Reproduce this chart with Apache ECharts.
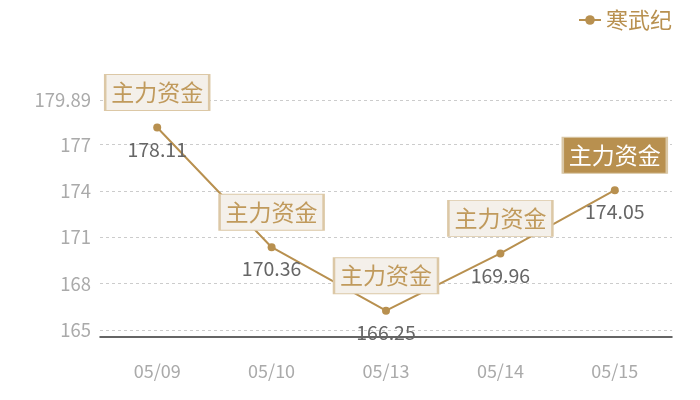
<!DOCTYPE html>
<html>
<head>
<meta charset="utf-8">
<script src="https://cdn.jsdelivr.net/npm/echarts@6/dist/echarts.min.js"></script>
<style>
  html, body { margin: 0; padding: 0; background: #fff; }
  #chart { width: 700px; height: 400px; }
</style>
</head>
<body>
<div id="chart"></div>
<script>
var dates = ['05/09', '05/10', '05/13', '05/14', '05/15'];
var prices = [178.11, 170.36, 166.25, 169.96, 174.05];
var seriesName = '寒武纪';
var markText = '主力资金';
var yMin = 165;
var yMax = 179.89;
var yStep = 3;

var gold = '#b8904f';
var font = '"Noto Sans CJK SC", "Noto Sans", sans-serif';

var chart = echarts.init(document.getElementById('chart'));

// one boxed tag over every point, the last one filled
var marks = [];
for (var i = 0; i < dates.length; i++) {
    var item = { coord: [dates[i], prices[i]], value: markText };
    if (i === dates.length - 1) {
        item.itemStyle = { color: gold, borderColor: '#d9c7a6' };
        item.label = { color: '#fff' };
    }
    marks.push(item);
}

chart.setOption({
    animation: false,
    textStyle: { fontFamily: font },
    legend: {
        right: 23,
        top: 4,
        itemWidth: 22,
        itemHeight: 12,
        itemGap: 8,
        textStyle: { color: gold, fontSize: 22, fontFamily: font },
        data: [seriesName]
    },
    grid: { left: 100, right: 28, top: 100, bottom: 70 },
    xAxis: {
        type: 'category',
        data: dates,
        offset: 7,
        axisLine: { lineStyle: { color: '#333', width: 1.5 } },
        axisTick: { show: false },
        axisLabel: { color: '#aaa', fontSize: 18, margin: 25, fontFamily: font }
    },
    yAxis: {
        type: 'value',
        min: yMin,
        max: yMax,
        interval: yStep,
        axisLine: { show: false },
        axisTick: { show: false },
        axisLabel: { color: '#aaa', fontSize: 18.5, margin: 9, fontFamily: font },
        splitLine: { lineStyle: { color: '#ccc', type: [3, 3] } }
    },
    series: [{
        name: seriesName,
        type: 'line',
        data: prices,
        symbol: 'circle',
        symbolSize: 8,
        lineStyle: { color: gold, width: 2 },
        itemStyle: { color: gold },
        label: {
            show: true,
            position: 'bottom',
            distance: 8,
            color: '#666',
            fontSize: 19.5,
            fontFamily: font
        },
        markPoint: {
            symbol: 'rect',
            symbolSize: [104, 36],
            symbolOffset: [0, -35],
            itemStyle: { color: '#f4f0ea', borderColor: '#dcc8a6', borderWidth: 1.5 },
            label: {
                show: true,
                position: 'inside',
                formatter: markText,
                color: '#c09a5c',
                fontSize: 23,
                fontFamily: font
            },
            data: marks
        }
    }]
});
</script>
</body>
</html>
